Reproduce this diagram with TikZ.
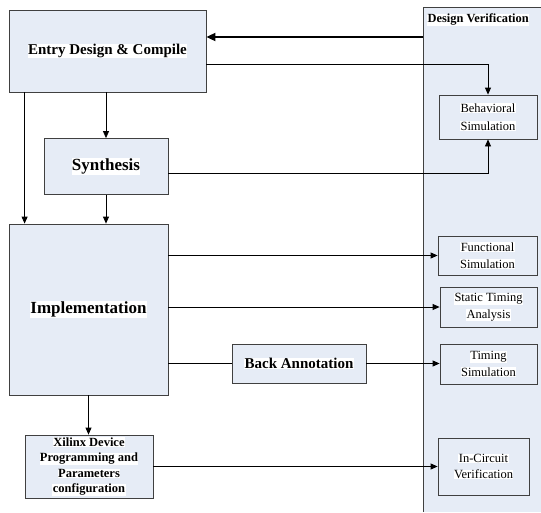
\documentclass[tikz,border=0pt]{standalone}
\usepackage{fontspec}
\setmainfont{Liberation Serif}
\usetikzlibrary{arrows.meta}
\definecolor{boxfill}{RGB}{230,236,246}
\definecolor{edgec}{RGB}{64,64,64}
\newcommand{\hl}[1]{{\setlength{\fboxsep}{0.4pt}\colorbox{white}{#1}}}
\begin{document}
\begin{tikzpicture}[x=1pt,y=-1pt,
  box/.style={draw=edgec, fill=boxfill, line width=0.8pt, inner sep=0pt, align=center},
  vbox/.style={box, font=\fontsize{12.5}{16.5}\selectfont},
  conn/.style={draw=black, line width=0.8pt, -{Triangle[length=7pt,width=6pt]}},
  bigconn/.style={draw=black, line width=1.8pt, -{Triangle[length=9pt,width=8pt]}}]
\useasboundingbox (0,0) rectangle (541,512);
% Design verification panel
\fill[boxfill] (423,7) rectangle (541,512);
\draw[edgec, line width=0.8pt] (541,7) -- (423,7) -- (423,512);
\node[anchor=west, inner sep=0pt, font=\bfseries\fontsize{12.4}{14}\selectfont] (dv) at (427,20) {\hl{Design Verification}};
% left boxes
\node[box, minimum width=197pt, minimum height=82pt, font=\bfseries\fontsize{15}{18}\selectfont] (entry) at (107.5,51) {\hl{Entry Design \& Compile}};
\node[box, minimum width=124pt, minimum height=56pt, font=\bfseries\fontsize{17}{20}\selectfont] (syn) at (106,166.5) {\hl{Synthesis}};
\node[box, minimum width=159pt, minimum height=171pt, font=\bfseries\fontsize{17}{20}\selectfont] (impl) at (88.5,309.5) {\hl{Implementation}};
\node[box, minimum width=128pt, minimum height=63pt, font=\bfseries\fontsize{12.5}{15.5}\selectfont] (xil) at (89,466.5) {\hl{Xilinx Device}\\\hl{Programming and}\\\hl{Parameters}\\\hl{configuration}};
\node[box, minimum width=134pt, minimum height=39pt, font=\bfseries\fontsize{15}{18}\selectfont] (back) at (299,363.5) {\hl{Back Annotation}};
% right boxes
\node[vbox, minimum width=98pt, minimum height=44pt, font=\fontsize{12.5}{18.5}\selectfont] (beh) at (488,117) {\hl{Behavioral}\\\hl{Simulation}};
\node[vbox, minimum width=99pt, minimum height=39pt] (func) at (487.5,255.5) {\hl{Functional}\\\hl{Simulation}};
\node[vbox, minimum width=97pt, minimum height=40pt] (sta) at (488.5,307) {\hl{Static Timing}\\\hl{Analysis}};
\node[vbox, minimum width=97pt, minimum height=40pt] (tsim) at (488.5,364) {\hl{Timing}\\\hl{Simulation}};
\node[vbox, minimum width=91pt, minimum height=57pt] (icv) at (483.5,466.5) {\hl{In-Circuit}\\\hl{Verification}};
% connectors
\coordinate (pv) at (423,37);
\draw[bigconn] (pv) -- (entry.east |- pv);
\draw[conn] ([yshift=-13pt]entry.east) -| (beh.north);
\draw[conn] ([yshift=-6.5pt]syn.east) -| (beh.south);
\draw[conn] (entry.south -| syn.north) -- (syn.north);
\draw[conn] ([xshift=16pt]entry.south west) -- ([xshift=16pt]entry.south west |- impl.north);
\draw[conn] (syn.south) -- (syn.south |- impl.north);
\draw[conn] (impl.east |- func.west) -- (func.west);
\draw[conn] (impl.east |- sta.west) -- (sta.west);
\draw[draw=black, line width=0.8pt] (impl.east |- back.west) -- (back.west);
\draw[conn] (back.east) -- (tsim.west |- back.east);
\draw[conn] (impl.south) -- (impl.south |- xil.north);
\draw[conn] (xil.east) -- (icv.west |- xil.east);
\end{tikzpicture}
\end{document}
